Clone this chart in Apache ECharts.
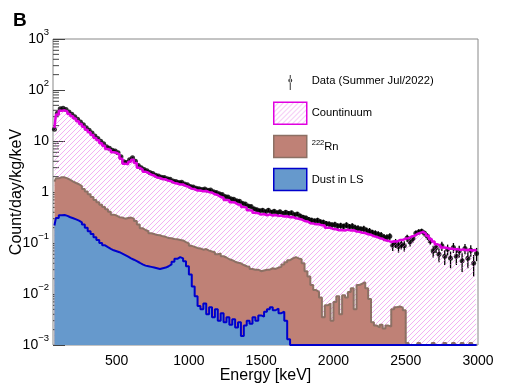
<!DOCTYPE html>
<html>
<head>
<meta charset="utf-8">
<script src="https://cdn.jsdelivr.net/npm/echarts@6/dist/echarts.min.js"></script>
<style>
  html, body { margin: 0; padding: 0; background: #fff; }
  #chart { width: 532px; height: 384px; }
</style>
</head>
<body>
<div id="chart"></div>
<script>
// bin centres (keV), 20 keV bins
const energy = [
  70, 90, 110, 130, 150, 170, 190, 210, 230, 250,
  270, 290, 310, 330, 350, 370, 390, 410, 430, 450,
  470, 490, 510, 530, 550, 570, 590, 610, 630, 650,
  670, 690, 710, 730, 750, 770, 790, 810, 830, 850,
  870, 890, 910, 930, 950, 970, 990, 1010, 1030, 1050,
  1070, 1090, 1110, 1130, 1150, 1170, 1190, 1210, 1230, 1250,
  1270, 1290, 1310, 1330, 1350, 1370, 1390, 1410, 1430, 1450,
  1470, 1490, 1510, 1530, 1550, 1570, 1590, 1610, 1630, 1650,
  1670, 1690, 1710, 1730, 1750, 1770, 1790, 1810, 1830, 1850,
  1870, 1890, 1910, 1930, 1950, 1970, 1990, 2010, 2030, 2050,
  2070, 2090, 2110, 2130, 2150, 2170, 2190, 2210, 2230, 2250,
  2270, 2290, 2310, 2330, 2350, 2370, 2390, 2410, 2430, 2450,
  2470, 2490, 2510, 2530, 2550, 2570, 2590, 2610, 2630, 2650,
  2670, 2690, 2710, 2730, 2750, 2770, 2790, 2810, 2830, 2850,
  2870, 2890, 2910, 2930, 2950, 2970, 2990
];

// measured spectrum
const dataVals = [
  17, 35, 43, 44, 41.5, 37, 33.5, 30, 26.8, 23.5,
  20.8, 18.2, 16.2, 14.3, 12.5, 11.2, 9.9, 8.8, 7.7, 7.2,
  6.6, 6.4, 5.9, 4.9, 3.9, 3.8, 4.3, 4.7, 4.0, 3.3,
  3.0, 2.75, 2.6, 2.4, 2.3, 2.12, 2.05, 1.95, 1.93, 1.82,
  1.77, 1.65, 1.6, 1.54, 1.55, 1.44, 1.38, 1.28, 1.25, 1.18,
  1.16, 1.12, 1.14, 1.08, 1.09, 1.01, 0.98, 0.92, 0.89, 0.82,
  0.8, 0.74, 0.72, 0.67, 0.66, 0.6, 0.58, 0.53, 0.52, 0.47,
  0.45, 0.43, 0.44, 0.41, 0.44, 0.4, 0.42, 0.39, 0.41, 0.38,
  0.4, 0.38, 0.39, 0.36, 0.37, 0.34, 0.32, 0.31, 0.29, 0.28,
  0.27, 0.28, 0.26, 0.255, 0.24, 0.235, 0.225, 0.23, 0.215, 0.22,
  0.21, 0.225, 0.205, 0.215, 0.2, 0.195, 0.185, 0.19, 0.175, 0.17,
  0.16, 0.155, 0.148, 0.142, 0.13, 0.128, 0.135, 0.09, 0.1, 0.085,
  0.095, 0.088, 0.125, 0.105, 0.122, 0.155, 0.165, 0.17, 0.155, 0.135,
  0.11, 0.07, 0.082, 0.06, 0.088, 0.055, 0.075, 0.05, 0.082, 0.055,
  0.07, 0.045, 0.078, 0.05, 0.072, 0.04, 0.062
];
const dataErr = [
  0.3, 0.4, 0.45, 0.45, 0.42, 0.4, 0.37, 0.35, 0.33, 0.31,
  0.29, 0.27, 0.25, 0.24, 0.22, 0.21, 0.2, 0.19, 0.17, 0.17,
  0.16, 0.16, 0.15, 0.14, 0.12, 0.12, 0.13, 0.13, 0.12, 0.11,
  0.11, 0.1, 0.1, 0.1, 0.09, 0.09, 0.09, 0.09, 0.09, 0.08,
  0.08, 0.08, 0.08, 0.08, 0.08, 0.07, 0.07, 0.07, 0.07, 0.07,
  0.07, 0.07, 0.07, 0.06, 0.06, 0.06, 0.06, 0.06, 0.06, 0.055,
  0.055, 0.05, 0.05, 0.05, 0.05, 0.045, 0.045, 0.045, 0.04, 0.04,
  0.04, 0.04, 0.04, 0.04, 0.04, 0.04, 0.04, 0.04, 0.04, 0.04,
  0.04, 0.04, 0.04, 0.035, 0.035, 0.035, 0.035, 0.033, 0.033, 0.032,
  0.032, 0.032, 0.03, 0.03, 0.03, 0.03, 0.03, 0.03, 0.03, 0.03,
  0.03, 0.03, 0.03, 0.03, 0.028, 0.028, 0.028, 0.028, 0.027, 0.027,
  0.022, 0.022, 0.022, 0.022, 0.02, 0.02, 0.02, 0.02, 0.02, 0.02,
  0.02, 0.02, 0.02, 0.02, 0.02, 0.02, 0.02, 0.02, 0.02, 0.02,
  0.018, 0.018, 0.018, 0.018, 0.018, 0.018, 0.018, 0.018, 0.018, 0.018,
  0.018, 0.018, 0.018, 0.018, 0.018, 0.018, 0.018
];

// fitted components
const continuum = [
  18, 33, 39, 40, 38, 34, 30.5, 27.5, 24.5, 21.5,
  19, 16.6, 14.8, 13.1, 11.4, 10.3, 9.0, 8.1, 7.0, 6.6,
  6.0, 5.9, 5.4, 4.5, 3.6, 3.5, 3.9, 4.3, 3.7, 3.0,
  2.75, 2.5, 2.38, 2.18, 2.1, 1.93, 1.88, 1.78, 1.77, 1.66,
  1.62, 1.5, 1.47, 1.4, 1.41, 1.31, 1.26, 1.16, 1.14, 1.07,
  1.07, 1.03, 1.05, 0.99, 0.98, 0.9, 0.87, 0.8, 0.77, 0.7,
  0.69, 0.63, 0.62, 0.57, 0.56, 0.51, 0.49, 0.44, 0.43, 0.39,
  0.385, 0.36, 0.37, 0.35, 0.365, 0.345, 0.355, 0.34, 0.345, 0.33,
  0.335, 0.32, 0.325, 0.305, 0.3, 0.29, 0.27, 0.265, 0.245, 0.242,
  0.232, 0.233, 0.222, 0.22, 0.2, 0.198, 0.188, 0.186, 0.178, 0.18,
  0.176, 0.183, 0.175, 0.178, 0.168, 0.166, 0.158, 0.157, 0.148, 0.145,
  0.136, 0.132, 0.124, 0.121, 0.113, 0.11, 0.105, 0.108, 0.107, 0.114,
  0.115, 0.122, 0.124, 0.134, 0.138, 0.15, 0.158, 0.165, 0.152, 0.138,
  0.12, 0.107, 0.094, 0.09, 0.082, 0.081, 0.077, 0.078, 0.075, 0.076,
  0.073, 0.075, 0.072, 0.074, 0.071, 0.073, 0.07
];
const radon = [
  1.6, 1.85, 1.95, 1.94, 1.85, 1.72, 1.6, 1.5, 1.42, 1.3,
  1.15, 1.02, 0.9, 0.8, 0.7, 0.63, 0.56, 0.51, 0.46, 0.41,
  0.36, 0.345, 0.32, 0.315, 0.3, 0.31, 0.315, 0.3, 0.27, 0.23,
  0.195, 0.18, 0.17, 0.155, 0.15, 0.143, 0.142, 0.135, 0.132, 0.125,
  0.124, 0.12, 0.118, 0.115, 0.112, 0.104, 0.098, 0.088, 0.084, 0.08,
  0.078, 0.074, 0.076, 0.071, 0.068, 0.066, 0.06, 0.062, 0.055, 0.052,
  0.048, 0.046, 0.043, 0.041, 0.04, 0.037, 0.035, 0.034, 0.031, 0.03,
  0.03, 0.028, 0.029, 0.03, 0.03, 0.032, 0.031, 0.033, 0.034, 0.038,
  0.042, 0.046, 0.05, 0.053, 0.05, 0.048, 0.04, 0.028, 0.022, 0.015,
  0.012, 0.011, 0.0085, 0.0035, 0.006, 0.0065, 0.003, 0.007, 0.009, 0.004,
  0.0095, 0.0085, 0.011, 0.013, 0.005, 0.015, 0.016, 0.017, 0.013, 0.008,
  0.0028, 0.0024, 0.0022, 0.0025, 0.0021, 0.0024, 0.0023, 0.005, 0.0055, 0.0057,
  0.0054, 0.0048, 0.0011, 0.001, 0.001, 0.001, 0.0011, 0.001, 0.001, 0.001,
  0.001, 0.0011, 0.001, 0.001, 0.001, 0.0011, 0.001, 0.001, 0.0011, 0.001,
  0.001, 0.0011, 0.001, 0.001, 0.0011, 0.001, 0.001
];
const dust = [
  0.22, 0.31, 0.35, 0.355, 0.34, 0.32, 0.305, 0.29, 0.275, 0.255,
  0.23, 0.2, 0.17, 0.15, 0.13, 0.115, 0.1, 0.09, 0.083, 0.077,
  0.072, 0.069, 0.066, 0.062, 0.058, 0.054, 0.05, 0.047, 0.044, 0.041,
  0.038, 0.036, 0.035, 0.034, 0.033, 0.032, 0.031, 0.032, 0.033, 0.035,
  0.038, 0.043, 0.049, 0.053, 0.05, 0.044, 0.035, 0.024, 0.014, 0.009,
  0.0058, 0.005, 0.0065, 0.004, 0.0055, 0.0035, 0.005, 0.003, 0.0042, 0.0028,
  0.0035, 0.0025, 0.0032, 0.0022, 0.0028, 0.0015, 0.0024, 0.003, 0.0026, 0.0035,
  0.003, 0.0038, 0.0036, 0.0045, 0.005, 0.0055, 0.0048, 0.0052, 0.0042, 0.0045,
  0.003, 0.0013, 0.001, 0.001, 0.001, 0.001, 0.001, 0.001, 0.001, 0.001,
  0.001, 0.001, 0.001, 0.001, 0.001, 0.001, 0.001, 0.001, 0.001, 0.001,
  0.001, 0.001, 0.001, 0.001, 0.001, 0.001, 0.001, 0.001, 0.001, 0.001,
  0.001, 0.001, 0.001, 0.001, 0.001, 0.001, 0.001, 0.001, 0.001, 0.001,
  0.001, 0.001, 0.001, 0.001, 0.001, 0.001, 0.001, 0.001, 0.001, 0.001,
  0.001, 0.001, 0.001, 0.001, 0.001, 0.001, 0.001, 0.001, 0.001, 0.001,
  0.001, 0.001, 0.001, 0.001, 0.001, 0.001, 0.001
];

// axis ticks
const xTicks = [500, 1000, 1500, 2000, 2500, 3000];
const yTicks = [0.001, 0.01, 0.1, 1, 10, 100, 1000];
const yTickBase = ['10', '10', '10', '1', '10', '10', '10'];
const yTickExp = ['\u22123', '\u22122', '\u22121', '', '', '2', '3'];
const yMinorTicks = [
  0.002, 0.003, 0.004, 0.005, 0.006, 0.007, 0.008, 0.009,
  0.02, 0.03, 0.04, 0.05, 0.06, 0.07, 0.08, 0.09,
  0.2, 0.3, 0.4, 0.5, 0.6, 0.7, 0.8, 0.9,
  2, 3, 4, 5, 6, 7, 8, 9,
  20, 30, 40, 50, 60, 70, 80, 90,
  200, 300, 400, 500, 600, 700, 800, 900
];
const xMin = 60, xMax = 3000;

const FONT = '"Liberation Sans", Arial, Helvetica, sans-serif';

// hatch pattern for the continuum
const hatch = document.createElement('canvas');
hatch.width = 5; hatch.height = 5;
const hc = hatch.getContext('2d');
hc.strokeStyle = 'rgba(228,90,228,0.6)';
hc.lineWidth = 0.8;
hc.beginPath();
hc.moveTo(0, 5); hc.lineTo(5, 0);
hc.moveTo(-1, 1); hc.lineTo(1, -1);
hc.moveTo(4, 6); hc.lineTo(6, 4);
hc.stroke();
const hatchFill = { image: hatch, repeat: 'repeat' };

const pairs = arr => energy.map((e, i) => [e, arr[i]]);

const dataIcon = 'path://M0,0h0.01v0.01h-0.01z M16,5h1v15h-1z M14.5,10.5a2,2 0 1,0 4,0a2,2 0 1,0 -4,0z M32.99,21.99h0.01v0.01h-0.01z';

const chart = echarts.init(document.getElementById('chart'), null, { renderer: 'canvas' });

const option = {
  animation: false,
  backgroundColor: '#fff',
  textStyle: { fontFamily: FONT },
  title: {
    text: 'B', left: 8, top: 6,
    textStyle: { fontFamily: FONT, fontSize: 19, fontWeight: 'bold', color: '#000' }
  },
  grid: {
    left: 53, right: 54, top: 39, bottom: 39,
    outerBoundsMode: 'none', containLabel: false,
    show: true, borderColor: '#888', borderWidth: 1, backgroundColor: 'transparent'
  },
  legend: {
    orient: 'vertical', left: 273, top: 70, padding: 0,
    itemWidth: 33, itemHeight: 22, itemGap: 9.6,
    selectedMode: false,
    textStyle: {
      fontFamily: FONT, fontSize: 11.2, color: '#000',
      rich: {
        sup: { fontFamily: FONT, fontSize: 7.5, verticalAlign: 'top', lineHeight: 8, color: '#000' },
        n: { fontFamily: FONT, fontSize: 11.2, lineHeight: 16, color: '#000' }
      }
    },
    formatter: name => name === '222Rn' ? '{sup|222}{n|Rn}' : name,
    data: [
      { name: 'Data (Summer Jul/2022)', icon: dataIcon, itemStyle: { color: '#000', borderWidth: 0 } },
      { name: 'Countinuum', icon: 'rect', itemStyle: { color: hatchFill, borderColor: '#e000e0', borderWidth: 1.5 } },
      { name: '222Rn', icon: 'rect', itemStyle: { color: '#bf8176', borderColor: '#8c7064', borderWidth: 1.5 } },
      { name: 'Dust in LS', icon: 'rect', itemStyle: { color: '#6699cc', borderColor: '#0000cc', borderWidth: 1.5 } }
    ]
  },
  xAxis: {
    type: 'value', min: xMin, max: xMax,
    name: 'Energy [keV]', nameLocation: 'middle', nameGap: 23, nameMoveOverlap: false,
    nameTextStyle: { fontFamily: FONT, fontSize: 16, color: '#000' },
    axisLine: { show: false },
    axisTick: { show: false },
    splitLine: { show: false },
    axisLabel: {
      customValues: xTicks, margin: 9,
      formatter: v => String(v),
      fontFamily: FONT, fontSize: 14, color: '#000'
    }
  },
  yAxis: {
    type: 'log', min: 0.001, max: 1000, logBase: 10, splitNumber: 6,
    name: 'Count/day/kg/keV', nameLocation: 'middle', nameGap: 28, nameMoveOverlap: false,
    nameTextStyle: { fontFamily: FONT, fontSize: 16, color: '#000' },
    axisLine: { show: false },
    splitLine: { show: false },
    axisTick: { show: true, inside: true, length: 12, lineStyle: { color: '#444', width: 1 } },
    axisLabel: {
      margin: 4, color: '#000',
      formatter: v => {
        const k = Math.round(Math.log10(v)) + 3;
        if (k < 0 || k >= yTicks.length) return '';
        const exp = yTickExp[k];
        return exp ? '{b|' + yTickBase[k] + '}{e|' + exp + '}' : '{b|' + yTickBase[k] + '}';
      },
      rich: {
        b: { fontFamily: FONT, fontSize: 14, lineHeight: 24, color: '#000' },
        e: { fontFamily: FONT, fontSize: 9.5, lineHeight: 9, verticalAlign: 'top', color: '#000' }
      }
    }
  },
  series: [
    {
      // minor log ticks on the y axis
      type: 'custom', name: 'yMinor', silent: true,
      data: yMinorTicks.map(v => [xMin, v]),
      encode: { x: 0, y: 1 },
      renderItem: (params, api) => {
        const p = api.coord([api.value(0), api.value(1)]);
        return {
          type: 'line',
          shape: { x1: p[0], y1: p[1], x2: p[0] + 6, y2: p[1] },
          style: { stroke: '#444', lineWidth: 1 }
        };
      }
    },
    {
      type: 'line', name: 'Countinuum', step: 'middle',
      data: pairs(continuum), symbol: 'none', clip: true,
      lineStyle: { width: 0, opacity: 0 },
      areaStyle: { color: hatchFill, opacity: 1, origin: 'start' }
    },
    {
      type: 'line', name: '222Rn', step: 'middle',
      data: pairs(radon), symbol: 'none', clip: true,
      lineStyle: { color: '#8c7064', width: 2 },
      itemStyle: { color: '#8c7064' },
      areaStyle: { color: '#bf8176', opacity: 1, origin: 'start' }
    },
    {
      type: 'line', name: 'Dust in LS', step: 'middle',
      data: pairs(dust), symbol: 'none', clip: true,
      lineStyle: { color: '#0000cc', width: 2 },
      itemStyle: { color: '#0000cc' },
      areaStyle: { color: '#6699cc', opacity: 1, origin: 'start' }
    },
    {
      // data error bars
      type: 'custom', name: 'dataErr', silent: true, clip: true,
      data: energy.map((e, i) => [e, dataVals[i], dataErr[i]]),
      encode: { x: 0, y: 1 },
      renderItem: (params, api) => {
        const e = api.value(0), v = api.value(1), err = api.value(2);
        const lo = api.coord([e, Math.max(v - err, 1e-5)]);
        const hi = api.coord([e, v + err]);
        return {
          type: 'line',
          shape: { x1: lo[0], y1: lo[1], x2: hi[0], y2: hi[1] },
          style: { stroke: '#000', lineWidth: 1.3 }
        };
      }
    },
    {
      type: 'scatter', name: 'Data (Summer Jul/2022)',
      data: pairs(dataVals), symbol: 'circle', symbolSize: 5,
      itemStyle: { color: '#000' }
    },
    {
      type: 'line', name: 'contLine', step: 'middle',
      data: pairs(continuum), symbol: 'none', clip: true,
      lineStyle: { color: '#e000e0', width: 2.5 },
      itemStyle: { color: '#e000e0' }
    }
  ]
};

chart.setOption(option);
</script>
</body>
</html>
